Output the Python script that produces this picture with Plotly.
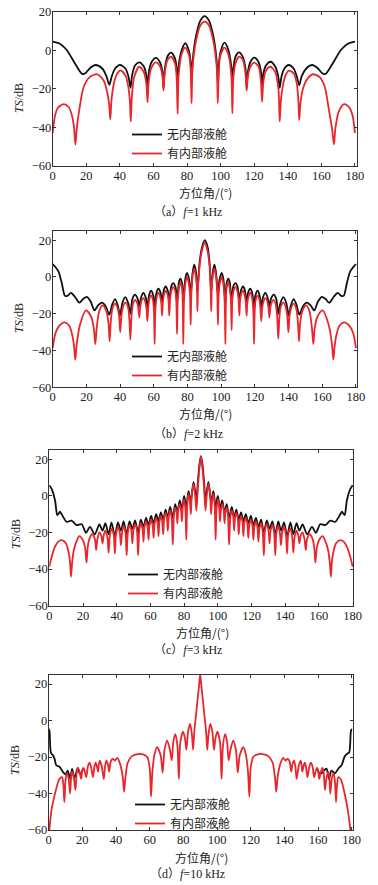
import plotly.graph_objects as go

# ---------------- data (azimuth deg, TS dB) ----------------
A_BLACK = [(0,4.5),(4,3.5),(8,0.5),(11,-3.5),(14,-8),(17.5,-12.3),(19.5,-12),(22,-9.5),(25.5,-7.7),(29.5,-9.5),(32,-13.5),(33.7,-18),(35.2,-13.5),(37,-9.8),(40,-7.7),(43.3,-9.5),(45.2,-14),(46.3,-19.5),(47.3,-13),(49,-8),(51.5,-6.3),(54.3,-8.5),(55.7,-13),(56.5,-21),(57.3,-11),(59,-6),(61.5,-4),(64,-6.5),(65.3,-11),(66,-19.5),(66.8,-9.5),(68.5,-3),(70.5,-1.3),(72.9,-4.5),(73.8,-10),(74.4,-18),(75,-8),(77,0.5),(79,3.6),(81.3,-1),(82.2,-7),(82.7,-18),(83.4,-5),(85.5,8),(88,15.5),(90.5,17.7),(93,15.5),(95.5,8),(97.6,-5),(98.4,-18),(99,-7),(99.9,-1),(102.3,3.9),(104.5,0.5),(106.3,-8),(107,-18),(107.6,-9.5),(109,-3),(111,-1.1),(113.2,-3.5),(114.8,-9.5),(115.5,-19.5),(116.3,-11),(117.8,-6),(120,-3.9),(122.5,-6),(124,-11),(124.7,-20),(125.5,-12),(127,-8),(129.7,-6),(132.5,-8.5),(134.3,-13.5),(135.2,-19.5),(136.3,-13.5),(138,-9.5),(140.5,-7.7),(143.5,-9.5),(145.5,-14),(146.8,-18.2),(148.3,-13.5),(151,-9.5),(154.5,-7.7),(158,-9.5),(160.5,-12),(162.5,-12.3),(166,-8),(169,-3.5),(172,0.5),(176,3.5),(180,4.5)]
A_RED = [(0,-43),(1.4,-34),(3,-30),(6.5,-28),(9.5,-29.5),(11.5,-34),(12.7,-40),(13.5,-49),(14.3,-41),(16,-30),(18.5,-19),(22,-14),(26.5,-12.5),(30.5,-16),(32.5,-22),(33.6,-28),(34.3,-36),(35,-26),(36.5,-17),(38.5,-12),(40.5,-10.5),(43.5,-13.5),(45.2,-20),(46,-27),(46.5,-37),(47.1,-25),(48.5,-14),(51.5,-8.6),(54.3,-11.5),(55.7,-17),(56.5,-27),(57.2,-16),(58.8,-9),(61.5,-6.3),(64,-8.5),(65.3,-13),(66,-21),(66.7,-12),(68.4,-5),(70.5,-3.4),(72.9,-7),(73.8,-14),(74.4,-33),(75,-13),(76.8,-2),(79,1.3),(81.3,-3),(82.2,-11),(82.7,-27.6),(83.3,-9),(85.5,5.5),(88,13),(90.5,14.8),(93,13),(95.5,5.5),(97.7,-9),(98.3,-27.6),(98.9,-11),(99.8,-3),(102.2,1.3),(104.5,-2),(106.4,-13),(107,-32.8),(107.6,-14),(108.8,-7),(111,-3.4),(113.2,-5),(114.8,-12),(115.5,-21),(116.3,-13),(117.8,-8.5),(120,-6.5),(122.6,-8.5),(124,-16),(124.7,-26.8),(125.4,-17),(126.8,-11),(129.6,-8.6),(132.6,-11.5),(134.4,-20),(135.2,-37),(135.8,-27),(136.8,-20),(138.5,-13.5),(140.5,-10.6),(143.5,-12),(145.3,-17),(146.3,-26),(146.8,-36.3),(147.5,-28),(149,-20),(152,-14.5),(155,-12.5),(159,-14),(162,-19),(164.3,-30),(166.4,-41),(167.5,-49),(168.3,-41),(170.3,-32),(173.5,-28),(176.8,-30),(178.6,-34),(180,-43)]

B_BLACK = [(0,7),(1.5,5.5),(3.4,3),(5.3,-3),(7.3,-10.3),(8.7,-10.3),(10.8,-8.7),(13.2,-10.8),(15.9,-14),(18,-12),(20.3,-10.8),(22.6,-13.5),(24.8,-18.2),(26.9,-15.5),(29.2,-14),(31.5,-16),(33.6,-20.5),(35.3,-15),(37,-12),(38.8,-16),(39.9,-21),(41.4,-14),(43.1,-11),(44.9,-14.5),(46.1,-20),(47.3,-12),(48.8,-9.6),(50.5,-12),(51.4,-16),(52.5,-11),(53.8,-8.7),(55.3,-11.5),(56.2,-17),(57.2,-10),(58.4,-7.5),(59.8,-10.5),(60.5,-18),(61.5,-9),(62.7,-6.4),(64,-8.5),(64.9,-14),(66,-7),(67,-5.1),(68.3,-7.5),(69.2,-13),(70.4,-5),(71.5,-3.3),(72.9,-5.5),(73.8,-14),(74.9,-3),(75.7,-0.9),(76.8,-3.5),(77.5,-14),(78.7,-1),(79.7,2.2),(81,-1.5),(81.9,-10),(83,2),(84,6.7),(85.1,2.5),(85.9,-8),(87.2,8),(88.7,16.5),(90.3,20),(91.9,16.5),(93.1,8),(94.1,-8),(95,2.5),(96,6.7),(97,2),(98.1,-10),(99,-1.5),(100.3,2.2),(101.3,-1),(102.5,-14),(103.2,-3.5),(104.3,-0.9),(105.1,-3),(106.2,-14),(107.1,-5.5),(108.5,-3.3),(109.6,-5),(110.8,-13),(111.7,-7.5),(113,-5.1),(114,-7),(115.1,-14),(116,-8.5),(117.3,-6.4),(118.5,-9),(119.5,-18),(120.2,-10.5),(121.6,-7.5),(122.8,-10),(123.8,-17),(124.7,-11.5),(126.2,-8.7),(127.5,-11),(128.6,-16),(129.5,-12),(131.2,-9.6),(132.7,-12),(133.9,-20),(135.1,-14.5),(136.9,-11),(138.6,-14),(140.1,-21),(141.2,-16),(143,-12),(144.7,-15),(146.4,-20.5),(148.5,-16),(150.8,-14),(153.1,-15.5),(155.2,-18.2),(157.4,-13.5),(159.7,-10.8),(162,-12),(164.1,-14),(166.8,-10.8),(169.2,-8.7),(171.3,-10.3),(172.7,-10.3),(174.7,-3),(176.6,3),(178.5,5.5),(180,7)]
B_RED = [(0,-38.7),(1.5,-31),(3.5,-27),(7,-24.7),(9.8,-26.5),(11.7,-32),(12.7,-38),(13.4,-45),(14.2,-37),(16.2,-26),(19.8,-18.2),(22.8,-21.5),(24.4,-28),(25.3,-36.5),(26.1,-28),(27.5,-19),(29.5,-15.5),(31.8,-18.5),(33.1,-25),(33.8,-35),(34.5,-24),(35.5,-17),(37,-14.5),(38.7,-17.5),(39.5,-22),(40.1,-30),(40.8,-21),(41.8,-16),(43.1,-14),(44.7,-16.5),(45.5,-23),(46.1,-34),(46.8,-21),(47.6,-15),(48.8,-12.5),(50.3,-14.5),(50.9,-17.5),(51.4,-22),(51.9,-17),(52.7,-13),(53.8,-11.5),(55.1,-14),(55.7,-17.5),(56.2,-24),(56.8,-16),(57.4,-12),(58.4,-10),(59.6,-13),(60.1,-19),(60.5,-36.5),(60.9,-19),(61.6,-11.5),(62.7,-8.5),(63.9,-11),(64.5,-14.5),(64.9,-21),(65.4,-14),(66,-10),(67,-7.5),(68.2,-9.5),(68.8,-13.5),(69.2,-21),(69.7,-12),(70.3,-8),(71.5,-5.5),(72.8,-8),(73.4,-14),(73.8,-31),(74.2,-13),(74.8,-7),(75.7,-3),(76.8,-6),(77.2,-14),(77.5,-36.5),(77.9,-14),(78.6,-4.5),(79.7,0),(80.9,-4),(81.5,-10),(81.9,-26),(82.3,-9),(83,0),(84,4.5),(85,0.5),(85.6,-6),(85.9,-18.7),(86.3,-5),(87.2,6),(88.6,14.5),(90.2,18.5),(91.8,14.5),(93.1,6),(93.7,-5),(94.1,-18.7),(94.4,-6),(95,0.5),(96,4.5),(97,0),(97.7,-9),(98.1,-26),(98.5,-10),(99.1,-4),(100.3,0),(101.4,-4.5),(102.1,-14),(102.5,-36.5),(102.8,-14),(103.2,-6),(104.3,-3),(105.2,-7),(105.8,-13),(106.2,-29),(106.6,-13),(107.2,-8),(108.5,-5.5),(109.7,-8),(110.3,-12),(110.8,-21),(111.2,-13.5),(111.8,-9.5),(113,-7.5),(114,-10),(114.6,-14),(115.1,-21),(115.5,-14.5),(116.1,-11),(117.3,-8.5),(118.4,-11.5),(119.1,-19),(119.5,-36.5),(119.9,-19),(120.4,-13),(121.6,-10),(122.6,-12),(123.2,-16),(123.8,-24),(124.3,-17.5),(124.9,-14),(126.2,-11.5),(127.3,-13),(128.1,-17),(128.6,-22),(129.1,-17.5),(129.7,-14.5),(131.2,-12.5),(132.4,-15),(133.2,-21),(133.9,-33.6),(134.5,-23),(135.3,-16.5),(136.9,-14),(138.2,-16),(139.2,-21),(139.9,-30),(140.5,-22),(141.3,-17.5),(143,-14.5),(144.5,-17),(145.5,-24),(146.2,-35),(146.9,-25),(148.2,-18.5),(150.5,-15.5),(152.5,-19),(153.9,-28),(154.7,-36.5),(155.5,-28),(157.2,-21.5),(160.2,-18.2),(163.8,-26),(165.8,-37),(166.6,-45),(167.3,-38),(168.3,-32),(170.2,-26.5),(173,-24.7),(176.5,-27),(178.5,-31),(180,-38.7)]

C_BLACK = [(0,5.8),(1.5,3.5),(3.4,-2.4),(4.7,-10.5),(5.5,-9.8),(6.3,-8.7),(7.9,-11),(10.3,-14.2),(13.2,-13.6),(16.2,-16),(19.2,-15.5),(21.8,-20.2),(24.1,-17),(27,-21),(29.7,-15.6),(31.6,-19),(33.3,-15),(35.2,-21),(36.9,-14.5),(38.9,-22),(40.7,-14.5),(42.5,-19),(44.1,-14),(45.9,-21),(47.6,-14),(49.3,-18),(50.9,-13.5),(52.7,-20),(54.3,-13),(55.9,-17),(57.4,-12),(58.9,-16),(60.4,-11),(61.9,-15),(63.4,-10),(64.8,-14),(66.2,-9),(67.6,-13),(69,-7.5),(70.3,-12),(71.7,-6),(73.3,-12),(74.7,-4.5),(76,-9),(77.4,-2.5),(78.7,-7),(80,0),(81.3,-6),(82.6,2.5),(84,-3),(85.6,7.6),(87.3,-2),(88.2,8),(89.1,17),(90,21.6),(90.9,17),(91.8,8),(92.7,-2),(94.4,7.6),(96,-3),(97.4,2.5),(98.7,-6),(100,0),(101.3,-7),(102.6,-2.5),(104,-9),(105.3,-4.5),(106.7,-12),(108.3,-6),(109.7,-12),(111,-7.5),(112.4,-13),(113.8,-9),(115.2,-14),(116.6,-10),(118.1,-15),(119.6,-11),(121.1,-16),(122.6,-12),(124.1,-17),(125.7,-13),(127.3,-20),(129.1,-13.5),(130.7,-18),(132.4,-14),(134.1,-21),(135.9,-14),(137.5,-19),(139.3,-14.5),(141.1,-22),(143.1,-14.5),(144.8,-21),(146.7,-15),(148.4,-19),(150.3,-15.6),(153,-21),(155.9,-17),(158.2,-20.2),(160.8,-15.5),(163.8,-16),(166.8,-13.6),(169.7,-14.2),(172.1,-11),(173.7,-8.7),(174.5,-9.8),(175.3,-10.5),(176.6,-2.4),(178.5,3.5),(180,5.8)]
C_RED = [(0,-38.7),(1.5,-33),(3.4,-27.8),(5.3,-25),(7.3,-24.2),(9.9,-26),(11.5,-31),(12.3,-36),(12.9,-44.2),(13.6,-36),(14.5,-30),(15.7,-26),(17.8,-22),(19.8,-24),(21.2,-28),(22.1,-36.5),(22.8,-28),(24,-23),(25.5,-21),(27,-23.5),(27.8,-29.6),(28.5,-24),(29.7,-20),(30.9,-22),(31.6,-26),(32.3,-21.5),(33.3,-19),(34.5,-23),(35.2,-31),(35.9,-22),(36.9,-18),(38.2,-21),(38.9,-31.5),(39.6,-21),(40.7,-17),(41.8,-20),(42.5,-27),(43.2,-20),(44.1,-16.5),(45.2,-20),(45.9,-32.5),(46.6,-20),(47.6,-16),(48.7,-19),(49.3,-26),(49.9,-19),(50.9,-15.5),(52,-19),(52.7,-32.5),(53.4,-19),(54.3,-15),(55.3,-18),(55.9,-25),(56.5,-17),(57.4,-14),(58.3,-17),(58.9,-24),(59.5,-16),(60.4,-13),(61.3,-16),(61.9,-23),(62.5,-15),(63.4,-12),(64.3,-15),(64.8,-22),(65.4,-14),(66.2,-11),(67,-14),(67.6,-21),(68.2,-12),(69,-9.5),(69.8,-12),(70.3,-19),(70.9,-11),(71.7,-8),(72.6,-12),(73.3,-26.7),(74,-10),(74.7,-6.5),(75.5,-9),(76,-15),(76.6,-7),(77.4,-4.5),(78.2,-8),(78.7,-14),(79.3,-5),(80,-2),(80.8,-8),(81.3,-24),(81.9,-4),(82.6,1),(83.4,-3),(84,-10),(84.6,1),(85.6,6.5),(86.6,0),(87.3,-8),(88.2,5),(89.1,15),(90,21.5),(90.9,15),(91.8,5),(92.7,-8),(93.4,0),(94.4,6.5),(95.4,1),(96,-10),(96.6,-3),(97.4,1),(98.1,-4),(98.7,-24),(99.2,-8),(100,-2),(100.7,-5),(101.3,-14),(101.8,-8),(102.6,-4.5),(103.4,-7),(104,-15),(104.5,-9),(105.3,-6.5),(106,-10),(106.7,-26.7),(107.4,-12),(108.3,-8),(109.1,-11),(109.7,-19),(110.2,-12),(111,-9.5),(111.8,-12),(112.4,-21),(113,-14),(113.8,-11),(114.6,-14),(115.2,-22),(115.7,-15),(116.6,-12),(117.5,-15),(118.1,-23),(118.7,-16),(119.6,-13),(120.5,-16),(121.1,-24),(121.7,-17),(122.6,-14),(123.5,-17),(124.1,-25),(124.7,-18),(125.7,-15),(126.6,-19),(127.3,-32.5),(128,-19),(129.1,-15.5),(130.1,-19),(130.7,-26),(131.3,-19),(132.4,-16),(133.4,-20),(134.1,-32.5),(134.8,-20),(135.9,-16.5),(136.8,-20),(137.5,-27),(138.2,-20),(139.3,-17),(140.4,-21),(141.1,-31.5),(141.8,-21),(143.1,-18),(144.1,-22),(144.8,-31),(145.5,-23),(146.7,-19),(147.7,-21.5),(148.4,-26),(149.1,-22),(150.3,-20),(151.5,-24),(152.2,-29.6),(153,-23.5),(154.5,-21),(156,-23),(157.2,-28),(157.9,-36.5),(158.8,-28),(160.2,-24),(162.2,-22),(164.3,-26),(165.5,-30),(166.4,-36),(167.1,-44.2),(167.7,-36),(168.5,-31),(170.1,-26),(172.7,-24.2),(174.7,-25),(176.6,-27.8),(178.5,-33),(180,-38.7)]

D_BLACK = [(0,-4.5),(0.5,-6),(1.3,-17.5),(2.5,-19),(3.5,-21),(4.5,-24.5),(6.5,-25.4),(8.5,-28.2),(10,-29.5),(11.3,-27.5),(12.7,-32),(13.9,-26.5),(15.3,-31.5),(17.3,-26),(18.6,-29.5),(19.5,-28.5),(20.7,-26),
           (None,None),
           (159.3,-26),(160.6,-28.5),(162,-29),(163,-28),(165,-26.4),(166.5,-31.9),(168,-27.4),(170,-29),(172,-26.4),(174,-24.5),(175.9,-19.5),(177.5,-18),(178.5,-17.5),(179.5,-6),(180,-4.5)]
D_RED = [(0,-66),(0.5,-59),(1.5,-50),(2.5,-45),(4.3,-38),(6.3,-32),(7.9,-31),(8.7,-35),(9.3,-44.7),(10,-33),(10.7,-29),(11.7,-31),(12.7,-40),(13.4,-30),(13.9,-28),(14.9,-31),(15.9,-38),(16.6,-29),(17.3,-26),(18.3,-28),(19.3,-32),(20,-27),(20.7,-26),(21.5,-28),(22.3,-31),(23.3,-25),(24.3,-23),(25.3,-26),(26.3,-31),(27.2,-25),(27.9,-23),(28.6,-25),(29.3,-28),(29.8,-24),(30.3,-22),(31.5,-25),(32.7,-32),(33.5,-25),(34.3,-22),(35.2,-24),(35.9,-28),(37,-22),(38.3,-21),(39.3,-22),(40.7,-20.5),(42.5,-24),(44,-31),(44.8,-39),(45.6,-31),(47,-23),(49.5,-19.5),(53,-18.4),(56,-18.5),(58.5,-20),(60,-26),(60.8,-41.7),(61.6,-28),(63,-18),(64.4,-14.5),(66.5,-19),(67.7,-28.5),(68.8,-16),(70.4,-11),(72,-16),(73.1,-21.8),(74,-12),(75.2,-7.5),(76.5,-14),(77.3,-32),(78.2,-12),(79.8,-6),(81,-10),(81.8,-16),(82.8,-6),(84,-1.8),(85.1,-8),(85.8,-16),(86.5,-6),(87.5,3),(88.5,12),(89.3,19),(90,25.5),(90.7,19),(91.5,12),(92.5,3),(93.5,-6),(94.2,-16),(94.9,-8),(96,-1.8),(97.2,-6),(98.2,-16),(99,-10),(100.2,-6),(101.8,-12),(102.7,-32),(103.5,-14),(104.8,-7.5),(106,-12),(106.9,-21.8),(108,-16),(109.6,-11),(111.2,-16),(112.3,-28.5),(113.5,-19),(115.6,-14.5),(117,-18),(118.4,-28),(119.2,-41.7),(120,-26),(121.5,-20),(124,-18.5),(127,-18.4),(130.5,-19.5),(133,-23),(134.4,-31),(135.2,-39),(136,-31),(137.5,-24),(139.3,-20.5),(140.7,-22),(141.7,-21),(143,-22),(144.1,-28),(144.8,-24),(145.7,-22),(146.5,-25),(147.3,-32),(148.5,-25),(149.7,-22),(150.2,-24),(150.7,-28),(151.4,-25),(152.1,-23),(152.8,-25),(153.7,-31),(154.7,-26),(155.7,-23),(156.7,-25),(157.7,-31),(158.5,-28),(159.3,-26),(160,-27),(160.7,-32),(161.7,-28),(162.7,-26),(163.4,-29),(164.1,-38),(165.1,-31),(166.1,-28),(166.6,-30),(167.3,-40),(168.3,-31),(169.3,-29),(170,-33),(170.7,-44.7),(171.3,-35),(172.1,-31),(173.7,-32.5),(175.8,-40),(177.5,-48),(179,-58),(180,-66)]

SERIES_NAMES = ["无内部液舱", "有内部液舱"]
CAPTIONS = ["（a）<i>f</i>=1 kHz", "（b）<i>f</i>=2 kHz", "（c）<i>f</i>=3 kHz", "（d）<i>f</i>=10 kHz"]
X_TITLE = "方位角/(°)"
Y_TITLE = "<i>TS</i>/dB"
X_TICKS = [0, 20, 40, 60, 80, 100, 120, 140, 160, 180]
Y_TICKS = [-60, -40, -20, 0, 20]

# ---------------- layout geometry (pixels) ----------------
W, H = 378, 885
panels = [
    dict(black=A_BLACK, red=A_RED, x0=52.7, x1=357.3, y0=11.7, y1=165.7, xmax=181.4, ymax=20,
         leg=(127, 120), xt=(205, 193), yt=(19, 98), cap=(188, 212)),
    dict(black=B_BLACK, red=B_RED, x0=52.7, x1=357.3, y0=231, y1=387.3, xmax=180.8, ymax=25,
         leg=(127, 342), xt=(205, 413), yt=(19, 318), cap=(188, 434)),
    dict(black=C_BLACK, red=C_RED, x0=49.3, x1=353.3, y0=450, y1=605.7, xmax=180.4, ymax=25,
         leg=(123, 560), xt=(202, 632), yt=(16, 534), cap=(188, 650)),
    dict(black=D_BLACK, red=D_RED, x0=48.7, x1=352.7, y0=675, y1=830, xmax=180.6, ymax=25,
         leg=(130, 790), xt=(201, 857), yt=(15, 760), cap=(187, 874)),
]

BLACK = "#111111"
RED = "#e8262b"
AX = "#333333"
SERIF = "Liberation Serif, Times New Roman, Noto Sans CJK SC, serif"
CJK = "Noto Sans CJK SC, sans-serif"

fig = go.Figure()
layout = dict(width=W, height=H, margin=dict(l=0, r=0, t=0, b=0, pad=0, autoexpand=False),
              paper_bgcolor="white", plot_bgcolor="white", annotations=[])

for i, p in enumerate(panels):
    n = "" if i == 0 else str(i + 1)
    leg = "legend" + n
    for data, color, name in ((p["black"], BLACK, SERIES_NAMES[0]), (p["red"], RED, SERIES_NAMES[1])):
        xs = [d[0] for d in data]
        ys = [d[1] for d in data]
        fig.add_trace(go.Scatter(x=xs, y=ys, mode="lines", name=name,
                                 line=dict(color=color, width=1.8, shape="spline", smoothing=0.8),
                                 connectgaps=False, xaxis="x" + n, yaxis="y" + n, legend=leg))
    axcommon = dict(showline=True, mirror="ticks", linecolor=AX, linewidth=1, ticks="inside",
                    ticklen=3, tickcolor=AX, showgrid=False, zeroline=False, automargin=False,
                    ticklabelstandoff=-2,
                    tickfont=dict(family=SERIF, size=12.5, color="#222"))
    layout["xaxis" + n] = dict(axcommon, domain=[p["x0"] / W, p["x1"] / W], range=[0, p["xmax"]],
                               tickvals=X_TICKS, anchor="y" + n)
    layout["yaxis" + n] = dict(axcommon, domain=[1 - p["y1"] / H, 1 - p["y0"] / H],
                               range=[-60, p["ymax"]], tickvals=Y_TICKS, anchor="x" + n)
    layout[leg] = dict(x=p["leg"][0] / W, y=1 - p["leg"][1] / H, xanchor="left", yanchor="top",
                       bgcolor="rgba(0,0,0,0)", borderwidth=0, itemwidth=30, tracegroupgap=0,
                       font=dict(family=CJK, size=12, color="#222"))
    layout["annotations"] += [
        dict(text=X_TITLE, x=p["xt"][0] / W, y=1 - p["xt"][1] / H, xref="paper", yref="paper",
             showarrow=False, xanchor="center", yanchor="middle", font=dict(family=CJK, size=12, color="#222")),
        dict(text=Y_TITLE, x=p["yt"][0] / W, y=1 - p["yt"][1] / H, xref="paper", yref="paper",
             showarrow=False, xanchor="center", yanchor="middle", textangle=-90,
             font=dict(family=SERIF, size=12, color="#222")),
        dict(text=CAPTIONS[i], x=p["cap"][0] / W, y=1 - p["cap"][1] / H, xref="paper", yref="paper",
             showarrow=False, xanchor="center", yanchor="middle", font=dict(family=SERIF, size=12, color="#222")),
    ]

fig.update_layout(**layout)
fig.write_html("out.html", config={"displayModeBar": False},
               post_script="document.body.style.margin='0';document.body.style.overflow='hidden';")
